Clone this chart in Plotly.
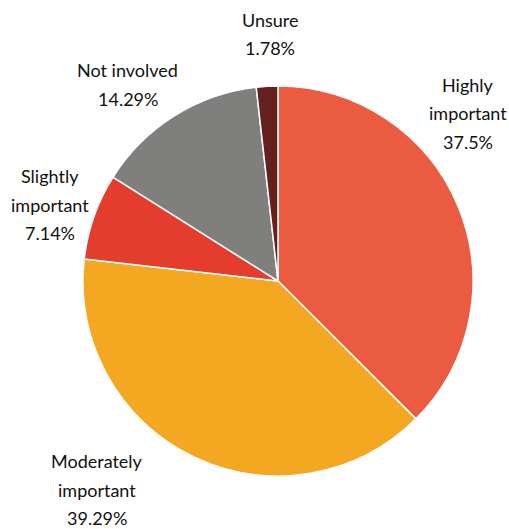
import plotly.graph_objects as go

categories = ["Highly important", "Moderately important", "Slightly important", "Not involved", "Unsure"]
values = [37.5, 39.29, 7.14, 14.29, 1.78]
label_lines = [["Highly", "important", "37.5%"], ["Moderately", "important", "39.29%"],
               ["Slightly", "important", "7.14%"], ["Not involved", "14.29%"], ["Unsure", "1.78%"]]
colors = ["#EA5B40", "#F4A822", "#E43D2E", "#7F807E", "#652020"]

W, H = 509, 529
fig = go.Figure(go.Pie(
    labels=categories, values=values, sort=False, direction="clockwise", rotation=0,
    marker=dict(colors=colors, line=dict(color="white", width=1.5)),
    textinfo="none", hoverinfo="label+value", showlegend=False,
    domain=dict(x=[(278 - 195) / W, (278 + 195) / W], y=[(248 - 195) / H, (248 + 195) / H]),
))

# label anchor positions (pixels: center x, first-line center y)
label_pos = [(468, 85), (97, 461), (50, 176), (128, 70), (270, 20)]
line_gap = 28.5
for lines, (px, py) in zip(label_lines, label_pos):
    for i, txt in enumerate(lines):
        fig.add_annotation(x=px / W, y=1 - (py + i * line_gap) / H, xref="paper", yref="paper",
                           text=txt, showarrow=False, xanchor="center", yanchor="middle",
                           font=dict(family="Lato, sans-serif", size=18, color="#111111"))

fig.update_layout(width=W, height=H, margin=dict(l=0, r=0, t=0, b=0),
                  paper_bgcolor="white", plot_bgcolor="white")
fig.write_html("out.html")
